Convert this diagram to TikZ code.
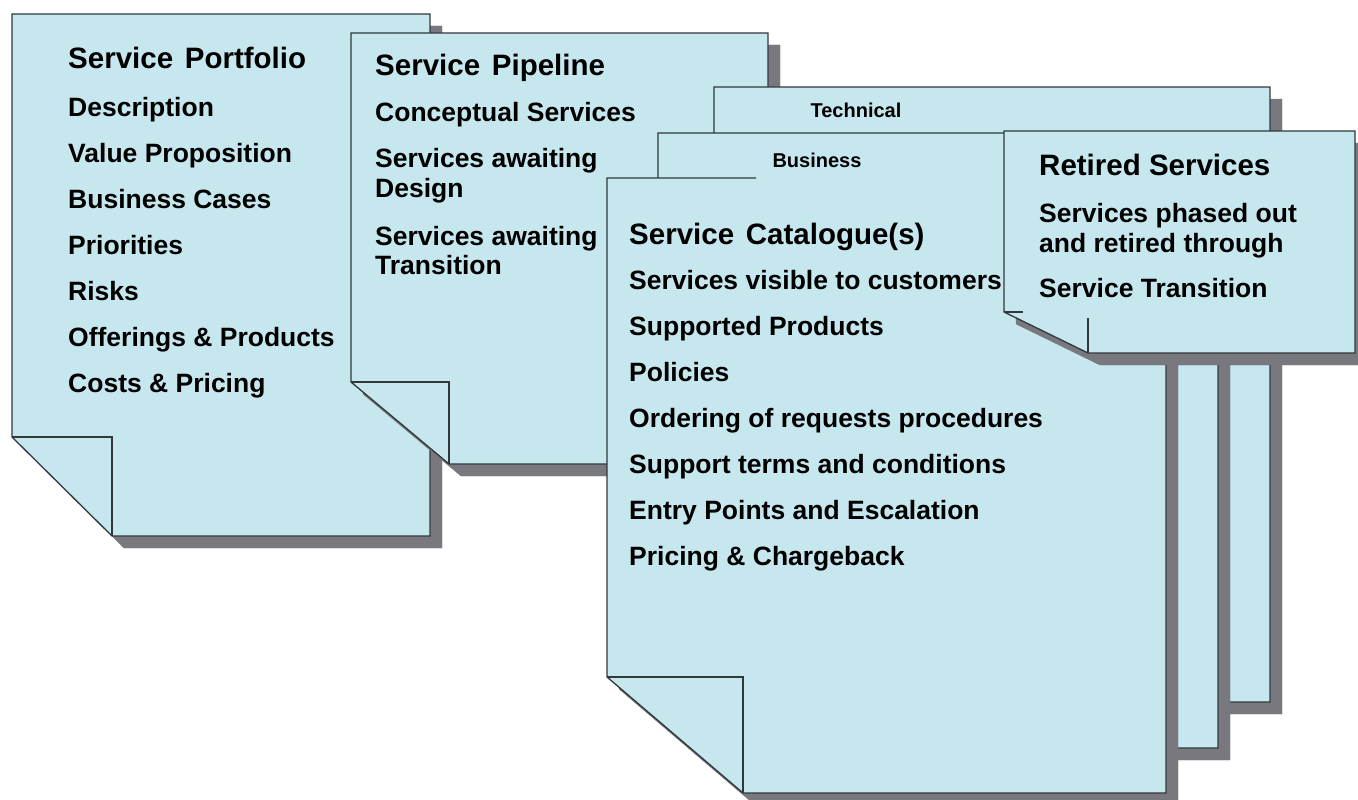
\documentclass[tikz,border=0pt]{standalone}
\usepackage{fontspec}
\setmainfont{Liberation Sans}
\usepackage{tikz}
\definecolor{paper}{RGB}{198, 231, 238}
\definecolor{edge}{RGB}{48, 56, 60}
\definecolor{shade}{RGB}{120, 120, 126}
\tikzstyle{page} = [fill=paper, draw=edge, line width=1.3pt, line join=miter, preaction={fill=shade, draw=shade, transform canvas={shift={(12pt,-12pt)}}}]
\tikzstyle{fold} = [draw=edge, line width=1.3pt, line join=miter]
\tikzstyle{head} = [inner sep=0pt, anchor=base west, text=black, font=\fontsize{29.5}{33}\selectfont\bfseries]
\tikzstyle{entry} = [inner sep=0pt, anchor=base west, text=black, font=\fontsize{26.5}{30}\selectfont\bfseries]
\tikzstyle{tab} = [inner sep=0pt, text=black, font=\fontsize{20}{24}\selectfont\bfseries]

\begin{document}
\begin{tikzpicture}[x=1pt, y=-1pt]
\useasboundingbox (0,0) rectangle (1358,800);

% pages =============================

% service portfolio
\path[page] (12,14) -- (430,14) -- (430,536) -- (112,536) -- (12,437) -- cycle;
\draw[fold] (12,437) -- (112,437) -- (112,536);

% service pipeline
\path[page] (351,33) -- (768,33) -- (768,464) -- (449,464) -- (351,382) -- cycle;
\draw[fold] (351,382) -- (449,382) -- (449,464);

% technical and business catalogues (folds hidden behind the front page)
\path[page] (714,87) -- (1270,87) -- (1270,702) -- (850,702) -- (714,586) -- cycle;
\path[page] (658,133) -- (1218,133) -- (1218,748) -- (794,748) -- (658,632) -- cycle;

% service catalogue
\path[page, draw=none] (607,178) -- (1166,178) -- (1166,793) -- (743,793) -- (607,677) -- cycle;
\draw[fold] (756,178) -- (607,178) -- (607,677) -- (743,793) -- (1166,793) -- (1166,178);
\draw[fold] (607,677) -- (743,677) -- (743,793);

% retired services
\path[page] (1004,131) -- (1355,131) -- (1355,353) -- (1088,353) -- (1004,312) -- cycle;
\draw[fold] (1004,312) -- (1023,312);
\draw[fold] (1088,318) -- (1088,353);

% texts =============================

% portfolio
\node[head] (portfolio) at (68,69) {Service\hspace{0.12em} Portfolio};
\node[entry] (descr) at (68,116.5) {Description};
\node[entry] (value) at (68,162.5) {Value Proposition};
\node[entry] (cases) at (68,208.5) {Business Cases};
\node[entry] (prio) at (68,254.5) {Priorities};
\node[entry] (risks) at (68,300.5) {Risks};
\node[entry] (offer) at (68,346.5) {Offerings \& Products};
\node[entry] (costs) at (68,392.5) {Costs \& Pricing};

% pipeline
\node[head] (pipeline) at (375,75.5) {Service\hspace{0.12em} Pipeline};
\node[entry] (concept) at (375,121.5) {Conceptual Services};
\node[entry] (wait1) at (375,167.5) {Services awaiting};
\node[entry] (design) at (375,197.5) {Design};
\node[entry] (wait2) at (375,245) {Services awaiting};
\node[entry] (trans) at (375,274.5) {Transition};

% tabs
\node[tab] (technical) at (856,110) {Technical};
\node[tab] (business) at (817,160) {Business};

% catalogue
\node[head] (catalogue) at (629,244) {Service\hspace{0.12em} Catalogue(s)};
\node[entry] (visible) at (629,289.5) {Services visible to customers};
\node[entry] (products) at (629,335.5) {Supported Products};
\node[entry] (policies) at (629,381.5) {Policies};
\node[entry] (ordering) at (629,427.5) {Ordering of requests procedures};
\node[entry] (terms) at (629,473.5) {Support terms and conditions};
\node[entry] (entry) at (629,519.5) {Entry Points and Escalation};
\node[entry] (charge) at (629,565.5) {Pricing \& Chargeback};

% retired
\node[head] (retired) at (1039,175.5) {Retired Services};
\node[entry] (phased) at (1039,222.5) {Services phased out};
\node[entry] (through) at (1039,252.5) {and retired through};
\node[entry] (st) at (1039,297.5) {Service Transition};

\end{tikzpicture}
\end{document}
